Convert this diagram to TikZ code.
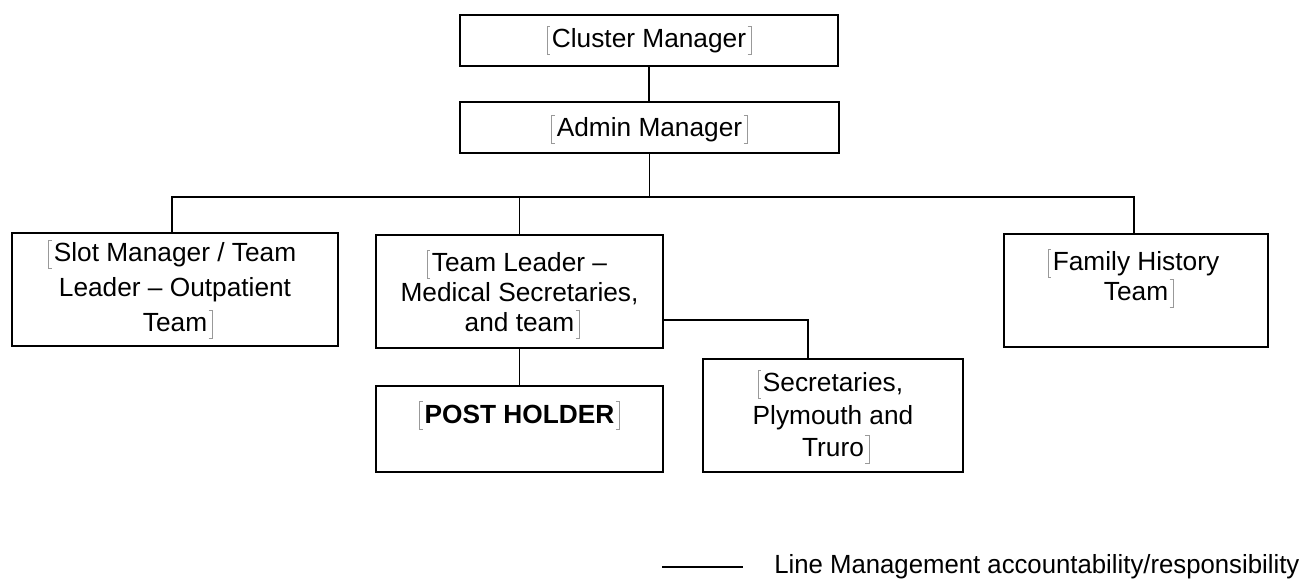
\documentclass[tikz,border=0pt]{standalone}
\usepackage{fontspec}
\setmainfont{Liberation Sans}
\newdimen\pxu \pxu=0.75pt
\definecolor{bmgray}{gray}{0.6}
% grey bookmark brackets as shown in the reference
\newcommand{\bmL}{\llap{\color{bmgray}\rule[-0.25em]{0.45pt}{1.1em}\rlap{\rule[\dimexpr0.85em-0.45pt\relax]{0.12em}{0.45pt}}\rule[-0.25em]{0.12em}{0.45pt}\kern0.06em}}
\newcommand{\bmR}{\rlap{\color{bmgray}\kern0.06em\rule[-0.25em]{0.12em}{0.45pt}\llap{\rule[\dimexpr0.85em-0.45pt\relax]{0.12em}{0.45pt}}\rule[-0.25em]{0.45pt}{1.1em}}}
% #1 width, #2 height, #3 first baseline from top, #4 baselineskip (all px), #5 text
\newcommand{\boxtext}[5]{\parbox[c][#2\pxu][t]{#1\pxu}{\centering\fontsize{19.7pt}{#4\pxu}\selectfont\rule{0pt}{#3\pxu}#5}}
\tikzset{
  orgbox/.style={draw, line width=1.1pt, inner sep=0pt, outer sep=0pt, rectangle},
  link/.style={line width=1pt},
}
\begin{document}
\begin{tikzpicture}[x=0.75pt, y=-0.75pt]
\useasboundingbox (0,0) rectangle (1316,580);

\node[orgbox, line width=1.6pt] (cm) at (649,40.5)
  {\boxtext{378}{51}{33}{26}{\bmL Cluster Manager\bmR}};
\node[orgbox, line width=0.8pt] (am) at (649.5,127.5)
  {\boxtext{379}{51}{35}{26}{\bmL Admin Manager\bmR}};
\node[orgbox] (slot) at (175,289.5)
  {\boxtext{326}{113}{29}{35}{\bmL Slot Manager / Team\\ Leader -- Outpatient\\ Team\bmR}};
\node[orgbox] (tl) at (519.5,291.5)
  {\boxtext{287}{113}{37}{30}{\bmL Team Leader --\\ Medical Secretaries,\\ and team\bmR}};
\node[orgbox] (ph) at (519.5,429)
  {\boxtext{287}{86}{37}{30}{\bfseries\bmL POST HOLDER\bmR}};
\node[orgbox] (sec) at (833,415.5)
  {\boxtext{260}{113}{33}{32.5}{\bmL Secretaries,\\ Plymouth and\\ Truro\bmR}};
\node[orgbox, line width=1.3pt] (fam) at (1136,290.5)
  {\boxtext{264}{113}{37}{30}{\bmL Family History\\ Team\bmR}};

\coordinate (busL) at (172,197);
\coordinate (busR) at (1134,197);
\coordinate (secj) at (808,320);

\draw[link] (cm.south) -- (cm.south |- am.north);
\draw[link] (am.south) -- (am.south |- busL);
\draw[link] (busL |- slot.north) -- (busL) -- (busR) -- (busR |- fam.north);
\draw[link] (tl.north) -- (tl.north |- busL);
\draw[link] (tl.south) -- (ph.north);
\draw[link] (tl.east |- secj) -- (secj) -- (secj |- sec.north);

\coordinate (legA) at (662,567);
\coordinate (legB) at (743,567);
\draw[link] (legA) -- (legB);
\node[anchor=base west, inner sep=0pt, font=\fontsize{19.7pt}{24pt}\selectfont] (leg) at (774,573)
  {\scalebox{0.98}[1]{Line Management accountability/responsibility}};
\end{tikzpicture}
\end{document}
